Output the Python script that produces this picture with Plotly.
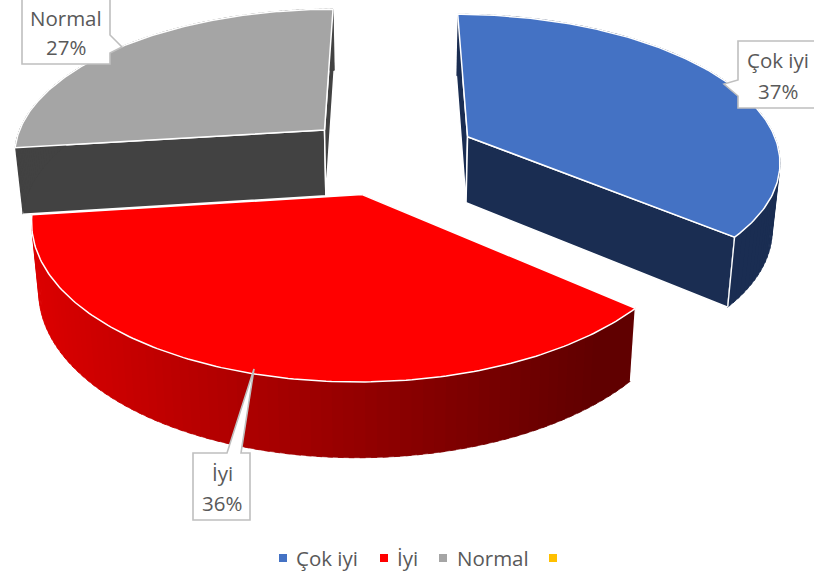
import numpy as np
import plotly.graph_objects as go

# ---- data ----
categories = ["Çok iyi", "İyi", "Normal", " "]
values = [37, 36, 27, 0]

# ---- style ----
top_colors = ["#4472C4", "#FF0000", "#A5A5A5", "#FFC000"]
cut_colors = ["#1A2D52", "#660000", "#424242", "#FFC000"]
explode = [0.30, 0.30, 0.30, 0.0]
nudge_u = [-0.026, 0.004, 0.007, 0.0]
nudge_v = [-0.012, 0.004, -0.043, 0.0]
draw_order = [2, 0, 1]
rim_corner = {0: -1, 1: 0}
TEXT = "#595959"
FONT = "Open Sans"

# projection parameters for the tilted pie
CX, CY, A, B, P, K, H = 391, 152, 312, 145, 0.15, 0.02, 66.7
WARP = np.radians(4.0)


def project(u, v, z=0.0):
    u, v = np.asarray(u, float), np.asarray(v, float)
    s = 1 / (1 + P * v)
    x = CX + A * u * s * (1 - K * z)
    y = CY - B * v * s + z * H * (1 + 0.57 * (s - 1))
    return x, y


def warp(t):
    t = np.asarray(t, float)
    return t - WARP * np.clip(np.sin(t), 0, None)


total = sum(values)
edges = np.concatenate([[0], np.cumsum(values)]) / total * 2 * np.pi
fig = go.Figure()


def poly(x, y, fill, line="white", width=1.5):
    fig.add_trace(go.Scatter(x=list(x) + [x[0]], y=list(y) + [y[0]], mode="lines",
                             fill="toself", fillcolor=fill,
                             line=dict(color=line, width=width),
                             hoverinfo="skip", showlegend=False))


def shade(i, frac):
    if i == 1:  # red side runs from bright to dark across the width
        return f"rgb({int(222 - 126 * min(frac, 1))},0,0)"
    return cut_colors[i]


for i in draw_order:
    t0, t1 = edges[i], edges[i + 1]
    mid = (t0 + t1) / 2
    u0 = explode[i] * np.sin(mid) + nudge_u[i]
    v0 = explode[i] * np.cos(mid) + nudge_v[i]
    th = warp(np.linspace(t0, t1, 160))
    au, av = u0 + np.sin(th), v0 + np.cos(th)

    # flat cut faces
    for t in (th[0], th[-1]):
        fu = np.array([u0, u0 + np.sin(t)])
        fv = np.array([v0, v0 + np.cos(t)])
        xa, ya = project(fu, fv, 0)
        xb, yb = project(fu, fv, 1)
        poly([xa[0], xa[1], xb[1], xb[0]], [ya[0], ya[1], yb[1], yb[0]], cut_colors[i])

    # rim, split in thin strips for the shading
    xa, ya = project(au, av, 0)
    xb, yb = project(au, av, 1)
    n = len(th)
    step = 2
    x_lo, x_hi = 33, 600
    for j in range(0, n - 1, step):
        e = min(j + step + 1, n - 1)
        frac = (max(xb[j], xb[e]) - x_lo) / (x_hi - x_lo)
        c = shade(i, max(frac, 0))
        fig.add_trace(go.Scatter(
            x=list(xa[j:e + 1]) + list(xb[j:e + 1][::-1]),
            y=list(ya[j:e + 1]) + list(yb[j:e + 1][::-1]),
            mode="lines", fill="toself", fillcolor=c, line=dict(color=c, width=0.6),
            hoverinfo="skip", showlegend=False))
    # corner edge of the rim
    if i in rim_corner:
        c = rim_corner[i]
        fig.add_trace(go.Scatter(x=[xa[c], xb[c]], y=[ya[c], yb[c]], mode="lines",
                                 line=dict(color="white", width=1.3),
                                 hoverinfo="skip", showlegend=False))

    # top face
    poly([project(u0, v0)[0]] + list(xa), [project(u0, v0)[1]] + list(ya), top_colors[i])

annotations = []

# legend row
legend_marker_x = [283, 384, 443, 553]
legend_text_x = [294, 395, 455, 564]
LEGEND_Y = 558
for name, col, mx, tx in zip(categories, top_colors, legend_marker_x, legend_text_x):
    fig.add_trace(go.Scatter(x=[mx], y=[LEGEND_Y], mode="markers", name=name, showlegend=False,
                             marker=dict(symbol="square", size=8, color=col), hoverinfo="skip"))
    annotations.append(dict(x=tx, y=LEGEND_Y, xref="x", yref="y", showarrow=False, xanchor="left",
                            text=name, font=dict(family=FONT, size=20.5, color=TEXT)))

# callouts (box with pointer)
BORDER = "#BFBFBF"
callouts = [
    ("M22,-3 L110,-3 L110,35 L122,47 L110,53 L110,64 L22,64 Z", 66, 18, 47, 2),
    ("M738,41 L830,41 L830,108 L738,108 L738,96 L724,84 L738,80 Z", 778, 60, 91, 0),
    ("M193,453 L227,453 L254,369 L241,453 L250,453 L250,520 L193,520 Z", 222, 473, 503, 1),
]
for path, tx, y1, y2, i in callouts:
    fig.add_shape(type="path", path=path, xref="x", yref="y", fillcolor="white",
                  line=dict(color=BORDER, width=1.6), layer="above")
    for ty, txt in ((y1, categories[i]), (y2, f"{round(values[i] / total * 100)}%")):
        annotations.append(dict(x=tx, y=ty, xref="x", yref="y", showarrow=False, align="center",
                                text=txt, font=dict(family=FONT, size=20.5, color=TEXT)))

fig.update_layout(
    width=814, height=573, margin=dict(l=0, r=0, t=0, b=0),
    paper_bgcolor="white", plot_bgcolor="white", showlegend=False,
    xaxis=dict(range=[0, 814], visible=False, fixedrange=True),
    yaxis=dict(range=[573, 0], visible=False, fixedrange=True),
    annotations=annotations,
)
fig.write_html("out.html", config={"displayModeBar": False},
               post_script="document.body.style.margin='0';document.body.style.overflow='hidden';")
